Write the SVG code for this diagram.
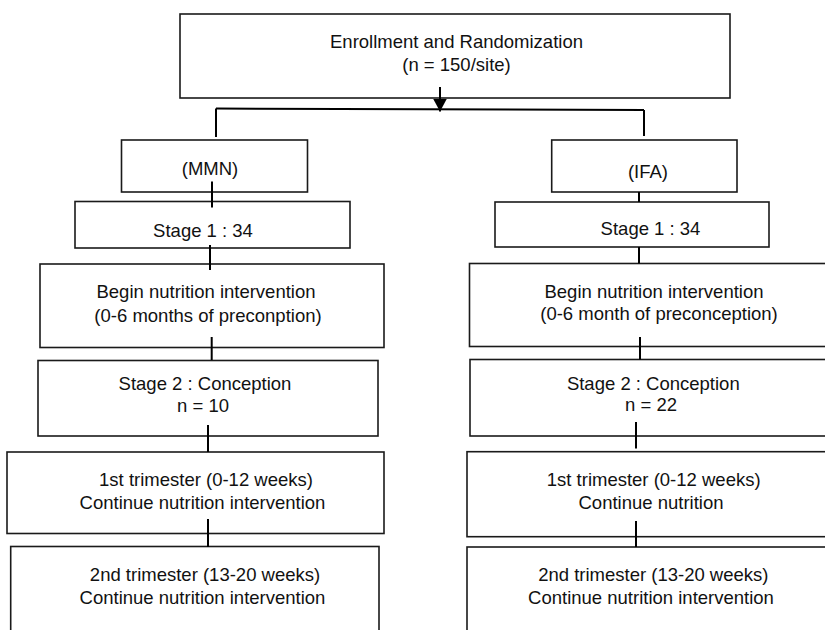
<svg xmlns="http://www.w3.org/2000/svg" width="825" height="630" viewBox="0 0 825 630">
<style>
.box{fill:#fff;stroke:#1a1a1a;stroke-width:1.6}
.t{font-family:"Liberation Sans",Arial,sans-serif;font-size:18.5px;fill:#111;text-anchor:middle}
.c{stroke:#000;stroke-width:2;fill:none}
</style>
<defs>
<marker id="ah" markerWidth="13" markerHeight="14" refX="13" refY="7" orient="auto" markerUnits="userSpaceOnUse" viewBox="0 0 13 14">
<path d="M0,0 L13,7 L0,14 Z" fill="#000"/>
</marker>
</defs>
<rect width="825" height="630" fill="#fff"/>
<g id="n-enroll"><rect class="box" x="180" y="14" width="550" height="84"/>
<text class="t" x="456.5" y="48">Enrollment and Randomization</text>
<text class="t" x="456.5" y="70.5">(n = 150/site)</text></g>
<g id="n-mmn"><rect class="box" x="121.5" y="140" width="186" height="52"/>
<text class="t" x="210" y="174.5">(MMN)</text></g>
<g id="n-mmn-s1"><rect class="box" x="75" y="201.5" width="275" height="46.5"/>
<text class="t" x="203" y="236.5">Stage 1 : 34</text></g>
<g id="n-mmn-begin"><rect class="box" x="40" y="264" width="344" height="83.5"/>
<text class="t" x="206" y="298">Begin nutrition intervention</text>
<text class="t" x="208" y="321.5">(0-6 months of preconption)</text></g>
<g id="n-mmn-s2"><rect class="box" x="38" y="360.5" width="340" height="75.5"/>
<text class="t" x="205" y="390">Stage 2 : Conception</text>
<text class="t" x="203" y="411.5">n = 10</text></g>
<g id="n-mmn-t1"><rect class="box" x="7" y="452" width="377" height="81.5"/>
<text class="t" x="206" y="485.5">1st trimester (0-12 weeks)</text>
<text class="t" x="202.5" y="508.5">Continue nutrition intervention</text></g>
<g id="n-mmn-t2"><rect class="box" x="10.7" y="546.5" width="368.3" height="95"/>
<text class="t" x="205" y="580.5">2nd trimester (13-20 weeks)</text>
<text class="t" x="202.5" y="603.5">Continue nutrition intervention</text></g>
<g id="n-ifa"><rect class="box" x="551.7" y="140" width="185.3" height="52"/>
<text class="t" x="648" y="177.5">(IFA)</text></g>
<g id="n-ifa-s1"><rect class="box" x="495" y="202" width="274" height="45"/>
<text class="t" x="650.5" y="234.5">Stage 1 : 34</text></g>
<g id="n-ifa-begin"><rect class="box" x="469.5" y="263.5" width="370" height="83"/>
<text class="t" x="654" y="297.5">Begin nutrition intervention</text>
<text class="t" x="659" y="320">(0-6 month of preconception)</text></g>
<g id="n-ifa-s2"><rect class="box" x="470" y="359.5" width="370" height="76.5"/>
<text class="t" x="653.3" y="390">Stage 2 : Conception</text>
<text class="t" x="651" y="411">n = 22</text></g>
<g id="n-ifa-t1"><rect class="box" x="467" y="451.7" width="373" height="85"/>
<text class="t" x="653.7" y="485.5">1st trimester (0-12 weeks)</text>
<text class="t" x="651" y="508.5">Continue nutrition</text></g>
<g id="n-ifa-t2"><rect class="box" x="467" y="547" width="373" height="95"/>
<text class="t" x="653.3" y="580.5">2nd trimester (13-20 weeks)</text>
<text class="t" x="651" y="603.5">Continue nutrition intervention</text></g>
<g id="connectors">
<line class="c" x1="440" y1="87" x2="440" y2="111.5" marker-end="url(#ah)"/>
<line class="c" x1="216" y1="108.5" x2="644" y2="110"/>
<line class="c" x1="216" y1="108.5" x2="216" y2="137"/>
<line class="c" x1="644" y1="110" x2="644" y2="136"/>
<line class="c" x1="212" y1="181.5" x2="212" y2="207.5"/>
<line class="c" x1="210" y1="245" x2="210" y2="270"/>
<line class="c" x1="211.7" y1="337" x2="211.7" y2="360"/>
<line class="c" x1="208" y1="425" x2="208" y2="452"/>
<line class="c" x1="208" y1="519" x2="208" y2="547"/>
<line class="c" x1="639" y1="192" x2="639" y2="202"/>
<line class="c" x1="639" y1="247" x2="639" y2="263.5"/>
<line class="c" x1="640" y1="337" x2="640" y2="359.5"/>
<line class="c" x1="636" y1="422" x2="636" y2="448.5"/>
<line class="c" x1="636" y1="521" x2="636" y2="547"/>
</g>
</svg>
